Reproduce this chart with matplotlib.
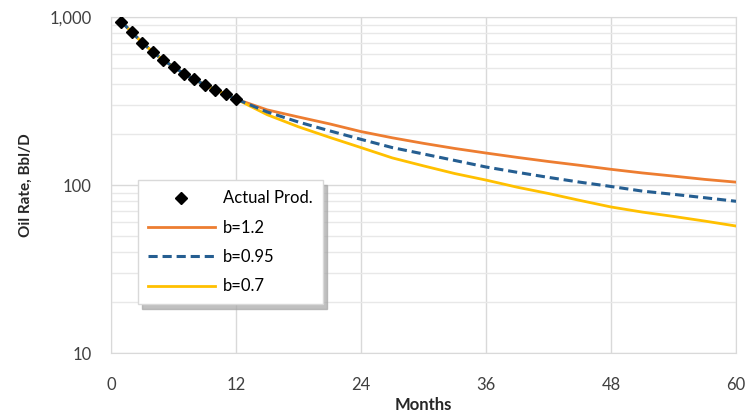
import matplotlib.pyplot as plt
from matplotlib.ticker import FixedLocator, LogLocator, FuncFormatter, NullFormatter

plt.rcParams['font.family'] = ['Lato', 'DejaVu Sans']

# Actual production, months 1-12
actual_months = [1, 2, 3, 4, 5, 6, 7, 8, 9, 10, 11, 12]
actual_rate = [940, 810, 705, 620, 555, 505, 460, 425, 395, 370, 347, 325]

# Forecast tails after the history period
fc_months = [15, 18, 21, 24, 27, 30, 33, 36, 39, 42, 45, 48, 51, 54, 57, 60]
rate_b12 = [280, 254, 231, 208, 191, 177, 165, 155, 146, 138, 131, 124, 118, 113, 108, 104]
rate_b095 = [272, 237, 210, 187, 167, 153, 140, 128, 119, 111, 104, 98, 92, 88, 84, 80]
rate_b07 = [262, 222, 192, 167, 145, 130, 117, 107, 97, 89, 81, 74, 69, 65, 61, 57]

xticks = [0, 12, 24, 36, 48, 60]

months = actual_months + fc_months

fig = plt.figure(figsize=(7.48, 4.2), dpi=100)
ax = fig.add_axes([0.1484, 0.1595, 0.8356, 0.8])

ax.plot(months, actual_rate + rate_b12, color='#ED7D31', lw=2.0, label='b=1.2', zorder=3)
ax.plot(months, actual_rate + rate_b095, color='#255E91', lw=2.2, ls=(0, (3, 1.6)),
        label='b=0.95', zorder=4)
ax.plot(months, actual_rate + rate_b07, color='#FFC000', lw=2.0, label='b=0.7', zorder=3)
ax.plot(actual_months, actual_rate, ls='none', marker='D', ms=6.5, color='black',
        label='Actual Prod.', zorder=5)

ax.set_yscale('log')
ax.set_ylim(10, 1000)
ax.set_xlim(0, 60)
ax.xaxis.set_major_locator(FixedLocator(xticks))
ax.yaxis.set_major_locator(FixedLocator([10, 100, 1000]))
ax.yaxis.set_minor_locator(LogLocator(base=10, subs=range(2, 10)))
ax.yaxis.set_major_formatter(FuncFormatter(lambda v, p: f'{v:,.0f}'))
ax.yaxis.set_minor_formatter(NullFormatter())

ax.grid(True, which='major', axis='both', color='#D9D9D9', lw=1.0)
ax.grid(True, which='minor', axis='y', color='#E8E8E8', lw=1.0)
ax.set_axisbelow(True)
for s in ax.spines.values():
    s.set_color('#D9D9D9')

ax.tick_params(axis='both', which='both', length=0, labelsize=12, colors='#404040')
ax.tick_params(axis='x', pad=17)
ax.tick_params(axis='y', pad=14)

ax.set_xlabel('Months', fontsize=12, fontweight='bold', color='#262626', labelpad=3)
ax.set_ylabel('Oil Rate, Bbl/D', fontsize=11, fontweight='bold', color='#262626', labelpad=12)

handles, labels = ax.get_legend_handles_labels()
order = [3, 0, 1, 2]
leg = ax.legend([handles[i] for i in order], [labels[i] for i in order],
                loc='lower left', bbox_to_anchor=(0.03, 0.12), fontsize=12,
                frameon=True, fancybox=False,
                shadow={'ox': 3, 'oy': -3, 'color': '#A6A6A6', 'alpha': 0.7},
                handlelength=4.0, labelspacing=0.8, borderpad=0.6, handletextpad=0.5)
leg.get_frame().set_edgecolor('#D9D9D9')
leg.get_frame().set_linewidth(1.0)

fig.savefig('out.png', dpi=100)
